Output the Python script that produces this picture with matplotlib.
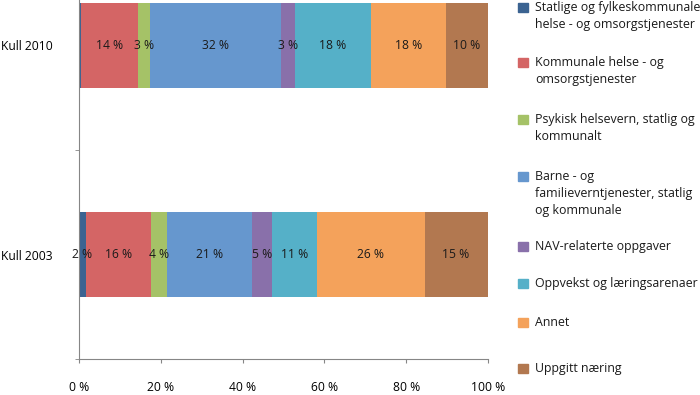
import matplotlib
matplotlib.use("Agg")
import matplotlib.pyplot as plt
from matplotlib.patches import Rectangle

plt.rcParams["font.family"] = ["Open Sans", "DejaVu Sans"]

cohorts = ["Kull 2003", "Kull 2010"]
sectors = [
    "Statlige og fylkeskommunale\nhelse - og omsorgstjenester",
    "Kommunale helse - og\nomsorgstjenester",
    "Psykisk helsevern, statlig og\nkommunalt",
    "Barne - og\nfamilieverntjenester, statlig\nog kommunale",
    "NAV-relaterte oppgaver",
    "Oppvekst og læringsarenaer",
    "Annet",
    "Uppgitt næring",
]
kull_2003 = [1.7, 15.9, 3.9, 20.9, 4.7, 11.0, 26.4, 15.4]
kull_2010 = [0.5, 14.0, 2.8, 32.2, 3.4, 18.4, 18.4, 10.3]
colors = ["#3B6391", "#D46565", "#A5C267", "#6697CE",
          "#8970AA", "#55B0C8", "#F4A25B", "#B27850"]
x_ticks = [0, 20, 40, 60, 80, 100]

W, H = 700, 395
fig = plt.figure(figsize=(W / 100, H / 100), dpi=100)
ax = fig.add_axes([79 / W, 1 - 359 / H, 409 / W, 359 / H])

series = list(zip(kull_2003, kull_2010))
left = [0.0, 0.0]
for vals, c in zip(series, colors):
    bars = ax.barh([0, 1], vals, left=left, height=0.41, color=c)
    for b, v in zip(bars, vals):
        if v >= 1:
            ax.text(b.get_x() + b.get_width() / 2, b.get_y() + b.get_height() / 2,
                    f"{round(v)} %", ha="center", va="center", fontsize=8.7,
                    color="#1a1a1a")
    left = [l + v for l, v in zip(left, vals)]

ax.set_xlim(0, 100)
ax.set_ylim(-0.5, -0.5 + 359 / 209)
ax.set_xticks(x_ticks)
ax.set_xticklabels([f"{t} %" for t in x_ticks], fontsize=8.7)
ax.set_yticks([0, 1])
ax.set_yticklabels(cohorts, fontsize=8.7)
ax.set_yticks([-0.5, 0.5], minor=True)
ax.tick_params(axis="y", which="major", length=0, pad=19)
ax.tick_params(axis="y", which="minor", length=3, color="#868686", direction="out")
ax.tick_params(axis="x", length=3, color="#868686", direction="out", pad=13)
for s in ("top", "right"):
    ax.spines[s].set_visible(False)
for s in ("left", "bottom"):
    ax.spines[s].set_color("#868686")

# legend laid out by hand, first-line centres in pixels
legend_y = [8, 63, 120, 177, 247, 284, 323, 369]
for lab, c, y in zip(sectors, colors, legend_y):
    fig.patches.append(Rectangle((518 / W, 1 - (y + 4) / H), 10 / W, 9 / H,
                                 transform=fig.transFigure, color=c))
    fig.text(535 / W, 1 - (y - 7) / H, lab, ha="left", va="top",
             fontsize=8.9, linespacing=1.4, color="#1a1a1a")

fig.savefig("out.png", dpi=100)
